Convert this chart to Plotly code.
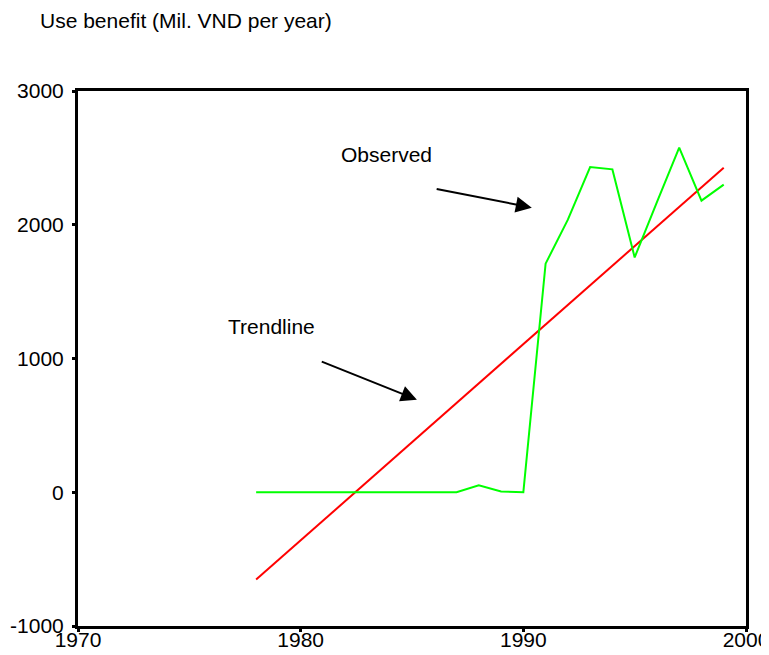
import plotly.graph_objects as go

years = list(range(1978, 2000))
observed = [0, 0, 0, 0, 0, 0, 0, 0, 0, 0, 52, 5, 0, 1709, 2038, 2431, 2414, 1756, 2170, 2576, 2180, 2300]
trend = [-653, -506, -360, -213, -66, 80, 227, 374, 520, 667, 814, 960, 1107, 1254, 1400,
         1547, 1694, 1840, 1987, 2134, 2280, 2427]
x_ticks = [1970, 1980, 1990, 2000]
y_ticks = [-1000, 0, 1000, 2000, 3000]
title_text = "Use benefit (Mil. VND per year)"

FONT = "Arial, Liberation Sans, sans-serif"
FS = 21

fig = go.Figure()
fig.add_trace(go.Scatter(x=years, y=trend, mode="lines", line=dict(color="#ff0000", width=2),
                         name="Trendline", showlegend=False))
fig.add_trace(go.Scatter(x=years, y=observed, mode="lines", line=dict(color="#00ff00", width=2),
                         name="Observed", showlegend=False))

axis_common = dict(showgrid=False, zeroline=False, showline=True, linecolor="black", linewidth=3,
                   mirror=True, ticks="outside", ticklen=3, tickwidth=3, tickcolor="black",
                   automargin=False, ticklabeloverflow="allow",
                   tickfont=dict(family=FONT, size=FS, color="black"))

fig.update_xaxes(range=[1970, 2000], tickvals=x_ticks, ticktext=[str(v) for v in x_ticks],
                 ticklabelstandoff=-10, **axis_common)
fig.update_yaxes(range=[-1000, 3000], tickvals=y_ticks, ticktext=[str(v) for v in y_ticks],
                 ticklabelstandoff=4, **axis_common)

annotations = [
    dict(x=-0.0599, y=1.1327, xref="paper", yref="paper", text=title_text, showarrow=False,
         xanchor="left", yanchor="middle", font=dict(family=FONT, size=FS, color="black")),
    dict(x=1983.87, y=2526, xref="x", yref="y", text="Observed", showarrow=False,
         font=dict(family=FONT, size=FS, color="black")),
    dict(x=1978.68, y=1240, xref="x", yref="y", text="Trendline", showarrow=False,
         font=dict(family=FONT, size=FS, color="black")),
    dict(x=1990.38, y=2128, ax=1986.04, ay=2270, xref="x", yref="y", axref="x", ayref="y",
         text="", showarrow=True, arrowhead=2, arrowsize=1.6, arrowwidth=2, arrowcolor="black", standoff=0),
    dict(x=1985.22, y=692, ax=1980.88, ay=981, xref="x", yref="y", axref="x", ayref="y",
         text="", showarrow=True, arrowhead=2, arrowsize=1.6, arrowwidth=2, arrowcolor="black", standoff=0),
]

# The page body adds an 8px offset, so the figure is sized to end at the window edge.
fig.update_layout(
    width=761, height=647,
    margin=dict(l=70, r=23, t=83, b=29, autoexpand=False),
    plot_bgcolor="white", paper_bgcolor="white",
    annotations=annotations,
)

fig.write_html("out.html")
